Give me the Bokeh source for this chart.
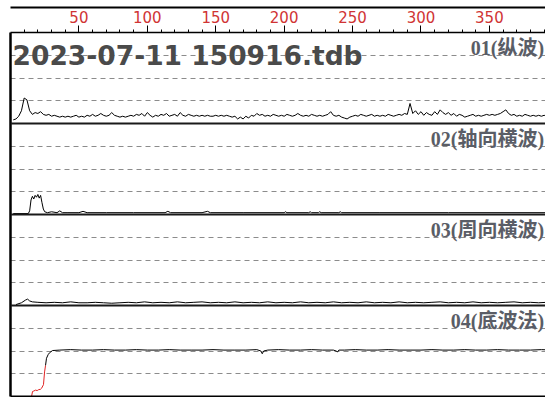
from bokeh.plotting import figure
from bokeh.models import Range1d, LinearAxis, FixedTicker, Span, Label
from bokeh.embed import file_html
from bokeh.resources import INLINE

# ---------------- data ----------------
title_text = "2023-07-11 150916.tdb"
panel_names = ["01(纵波)", "02(轴向横波)", "03(周向横波)", "04(底波法)"]
x_major_ticks = [50, 100, 150, 200, 250, 300, 350]
x_minor_ticks = [10, 20, 30, 40, 60, 70, 80, 90, 110, 120, 130, 140, 160, 170, 180, 190,
                 210, 220, 230, 240, 260, 270, 280, 290, 310, 320, 330, 340, 360, 370, 380, 390]

p1_x = list(range(2, 397, 2))
p1_y = [4, 5, 8, 14, 28, 26, 14, 10, 12, 11,
        13, 10, 9, 10, 8, 9, 8, 7, 8, 7,
        8, 7, 8, 9, 7, 8, 7, 9, 8, 10,
        8, 9, 11, 9, 8, 9, 12, 9, 8, 7,
        8, 7, 8, 9, 8, 10, 9, 11, 8, 12,
        9, 7, 9, 8, 10, 9, 11, 8, 9, 10,
        8, 12, 9, 8, 10, 9, 8, 9, 8, 9,
        8, 9, 8, 8, 9, 8, 9, 8, 9, 8,
        7, 8, 5, 7, 5, 8, 6, 9, 8, 11,
        9, 10, 8, 9, 8, 10, 9, 8, 9, 8,
        10, 9, 8, 9, 11, 9, 8, 9, 8, 10,
        9, 8, 9, 8, 9, 10, 13, 9, 8, 9,
        7, 6, 5, 7, 8, 9, 8, 10, 9, 8,
        9, 10, 8, 9, 8, 9, 8, 10, 9, 8,
        9, 10, 9, 11, 10, 22, 11, 14, 10, 13,
        9, 12, 10, 9, 13, 10, 15, 12, 10, 12,
        9, 11, 8, 10, 9, 7, 8, 9, 10, 8,
        9, 8, 9, 10, 9, 10, 9, 10, 11, 13,
        15, 11, 9, 10, 8, 9, 8, 10, 9, 8,
        9, 8, 9, 8, 9, 8, 9, 9]

p2_x = [2, 13, 14, 15, 16, 17, 18, 19, 20, 21, 22, 23, 24, 25, 27, 30, 34, 36, 38, 42,
        50, 53, 56, 70, 90, 113, 115, 117, 140, 144, 146, 170, 200, 201, 202, 218, 219,
        220, 225, 226, 227, 240, 241, 242, 270, 320, 396]
p2_y = [1, 1, 4, 16, 20, 17, 21, 19, 22, 18, 21, 13, 6, 3, 2, 3, 2, 4, 2, 2,
        2, 3.5, 2, 2, 2, 2, 3.5, 2, 2, 3.5, 2, 2, 2, 3, 2, 2, 3,
        2, 2, 3, 2, 2, 3, 2, 2, 2, 2]

p3_x = [4, 8, 11, 12.5, 14, 16, 20, 26, 32, 38, 44, 50, 56, 62, 68, 74, 80, 86, 92, 98,
        104, 110, 116, 122, 128, 134, 140, 146, 152, 158, 164, 170, 176, 182, 188, 194,
        200, 206, 212, 218, 224, 230, 236, 242, 248, 254, 260, 266, 272, 278, 284, 290,
        296, 302, 308, 314, 320, 326, 332, 338, 344, 350, 356, 362, 368, 374, 380, 386,
        392, 396]
p3_y = [1, 3, 6, 7, 5, 4, 3.5, 3, 3.5, 3, 4, 3, 3, 3.5, 3, 2.5, 3, 3.5, 3, 4,
        3, 3.5, 3, 4, 3, 3.5, 4, 3, 3.5, 3, 4, 3, 3.5, 3, 4, 3,
        3.5, 3, 4, 3, 3.5, 3, 4, 3, 3.5, 3, 4, 3, 3.5, 3, 4, 3,
        3.5, 3, 3.5, 4, 3, 3.5, 3, 4, 3, 3.5, 3, 3.5, 4, 3, 3.5, 3,
        3.5, 3]

p4_red_x = [1, 15.4, 16.1, 17, 18.3, 19.5, 20.5, 22, 22.7, 24.1, 24.9, 25.6]
p4_red_y = [0, 0, 5.5, 6, 7, 6.5, 7.5, 8, 9, 13, 27, 34]
p4_x = [25.6, 26.3, 27.5, 28.5, 30.7, 36, 44, 52, 60, 68, 76, 84, 92, 100, 108, 116,
        124, 132, 140, 148, 156, 164, 172, 180, 183, 184, 185, 188, 196, 204, 212, 220,
        228, 236, 238, 239, 240, 244, 252, 260, 268, 276, 284, 292, 300, 308, 316, 324,
        332, 340, 348, 356, 364, 372, 380, 388, 396]
p4_y = [34, 42, 46, 48, 50.5, 51, 51.5, 51, 51, 51.5, 51, 51, 51.5, 51, 51, 51.5,
        51, 51, 51, 51.5, 51, 51, 51, 51.5, 50, 47, 50, 51, 51.5, 51, 51, 51.5,
        51, 51, 50, 49, 51, 51, 51.5, 51, 51, 51.5, 51, 51, 51, 51.5, 51, 51,
        51.5, 51, 51, 51.5, 51, 51, 51, 51.5, 51]

# ---------------- figure ----------------
n_panels = len(panel_names)
panel_h = 100
x_end = 391

p = figure(width=545, height=397, x_range=Range1d(0, x_end),
           y_range=Range1d(0, n_panels * panel_h),
           x_axis_location="above", y_axis_location="left",
           output_backend="svg", toolbar_location=None,
           min_border_left=10, min_border_right=0, min_border_top=32, min_border_bottom=1)
p.outline_line_color = None
p.background_fill_color = "white"
p.border_fill_color = "white"

top_axis = p.xaxis[0]
top_axis.ticker = FixedTicker(ticks=x_major_ticks, minor_ticks=x_minor_ticks)
top_axis.axis_line_color = "black"
top_axis.axis_line_width = 1.5
top_axis.major_tick_line_color = "black"
top_axis.major_tick_out = 7
top_axis.major_tick_in = 0
top_axis.minor_tick_line_color = "black"
top_axis.minor_tick_out = 3
top_axis.minor_tick_in = 0
top_axis.major_label_standoff = 3
top_axis.major_label_text_color = "#d03434"
top_axis.major_label_text_font = "DejaVu Sans"
top_axis.major_label_text_font_size = "15px"

left_axis = p.yaxis[0]
left_axis.ticker = FixedTicker(ticks=[], minor_ticks=[])
left_axis.major_tick_out = 0
left_axis.major_tick_in = 0
left_axis.minor_tick_out = 0
left_axis.minor_tick_in = 0
left_axis.major_label_text_font_size = "0px"
left_axis.axis_line_width = 2.5
left_axis.axis_line_color = "black"

def bare_axis():
    return LinearAxis(ticker=FixedTicker(ticks=[], minor_ticks=[]),
                      major_tick_out=0, major_tick_in=0, minor_tick_out=0, minor_tick_in=0,
                      major_label_text_font_size="0px", axis_line_width=2,
                      axis_line_color="black")

p.add_layout(bare_axis(), "below")
p.add_layout(bare_axis(), "above")

p.xgrid.visible = False
dash_levels = [i * panel_h + f * panel_h / 4 for i in range(n_panels) for f in (1, 2, 3)]
p.ygrid.ticker = FixedTicker(ticks=dash_levels, minor_ticks=[])
p.ygrid.grid_line_color = "#8c8c8c"
p.ygrid.grid_line_dash = "5 4"
p.ygrid.grid_line_width = 1

for i in range(1, n_panels):
    p.add_layout(Span(location=i * panel_h, dimension="width",
                      line_color="#1a1a1a", line_width=2))

series = [(p1_x, p1_y), (p2_x, p2_y), (p3_x, p3_y), (p4_x, p4_y)]
for k, (xs, ys) in enumerate(series):
    base = (n_panels - 1 - k) * panel_h
    p.line(xs, [base + v for v in ys], line_color="black", line_width=1)
    p.add_layout(Label(x=390, y=base + panel_h - 5, text=panel_names[k],
                       text_align="right", text_baseline="top",
                       text_font="Liberation Serif, Noto Sans CJK SC",
                       text_font_style="bold", text_font_size="20px",
                       text_color="#5a5d66"))

p.line(p4_red_x, p4_red_y, line_color="#e02424", line_width=1)

p.add_layout(Label(x=1.5, y=(n_panels - 1) * panel_h + 75, text=title_text,
                   text_align="left", text_baseline="alphabetic",
                   text_font="DejaVu Sans", text_font_style="bold",
                   text_font_size="26.5px", text_color="#4a4a4a"))

open("out.html", "w").write(file_html(p, INLINE))
